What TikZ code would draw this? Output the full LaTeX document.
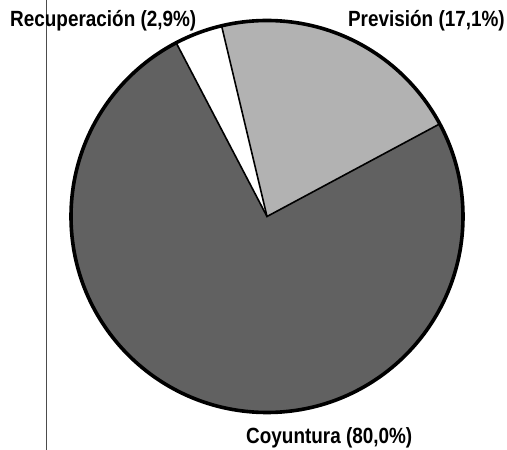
\documentclass[tikz,border=0pt]{standalone}
\usepackage{fontspec}
\newfontfamily\chartfont{Liberation Sans}
\usepackage{tikz}
\usetikzlibrary{calc}
\newcommand{\narrowtext}[1]{\scalebox{0.86}[1]{#1}}

\begin{document}
\begin{tikzpicture}[x=1pt,y=1pt,
    slice/.style={draw=black,line width=1.6pt,line join=miter},
    rim/.style={draw=black,line width=3.6pt},
    tag/.style={font=\chartfont\bfseries\fontsize{22}{25}\selectfont,inner sep=0pt}]
  \useasboundingbox (0,0) rectangle (507,450);
  % centre and boundary points
  \coordinate (o) at (267,233.5);
  \def\rad{196}
  \coordinate (p1) at ($(o)+(28.2:\rad)$);
  \coordinate (p2) at ($(o)+(103.4:\rad)$);
  \coordinate (p3) at ($(o)+(117.6:\rad)$);

  % thin rule at the left
  \draw[black!70,line width=0.8pt] (46,0) -- (46,450);

  % slices
  \fill[black!62] (o) -- (p3) arc[start angle=117.6,end angle=388.2,radius=\rad] -- cycle;
  \fill[black!30] (o) -- (p1) arc[start angle=28.2,end angle=103.4,radius=\rad] -- cycle;
  \fill[white] (o) -- (p2) arc[start angle=103.4,end angle=117.6,radius=\rad] -- cycle;
  \draw[slice] (p1) -- (o) -- (p2);
  \draw[slice] (o) -- (p3);
  \draw[rim] (o) circle[radius=\rad];

  % labels
  \node[tag,anchor=base west] (rec) at (10,423) {\narrowtext{Recuperación (2,9\%)}};
  \node[tag,anchor=base east] (prev) at (505,423) {\narrowtext{Previsión (17,1\%)}};
  \node[tag,anchor=base west] (coy) at (246,6) {\narrowtext{Coyuntura (80,0\%)}};
\end{tikzpicture}
\end{document}
